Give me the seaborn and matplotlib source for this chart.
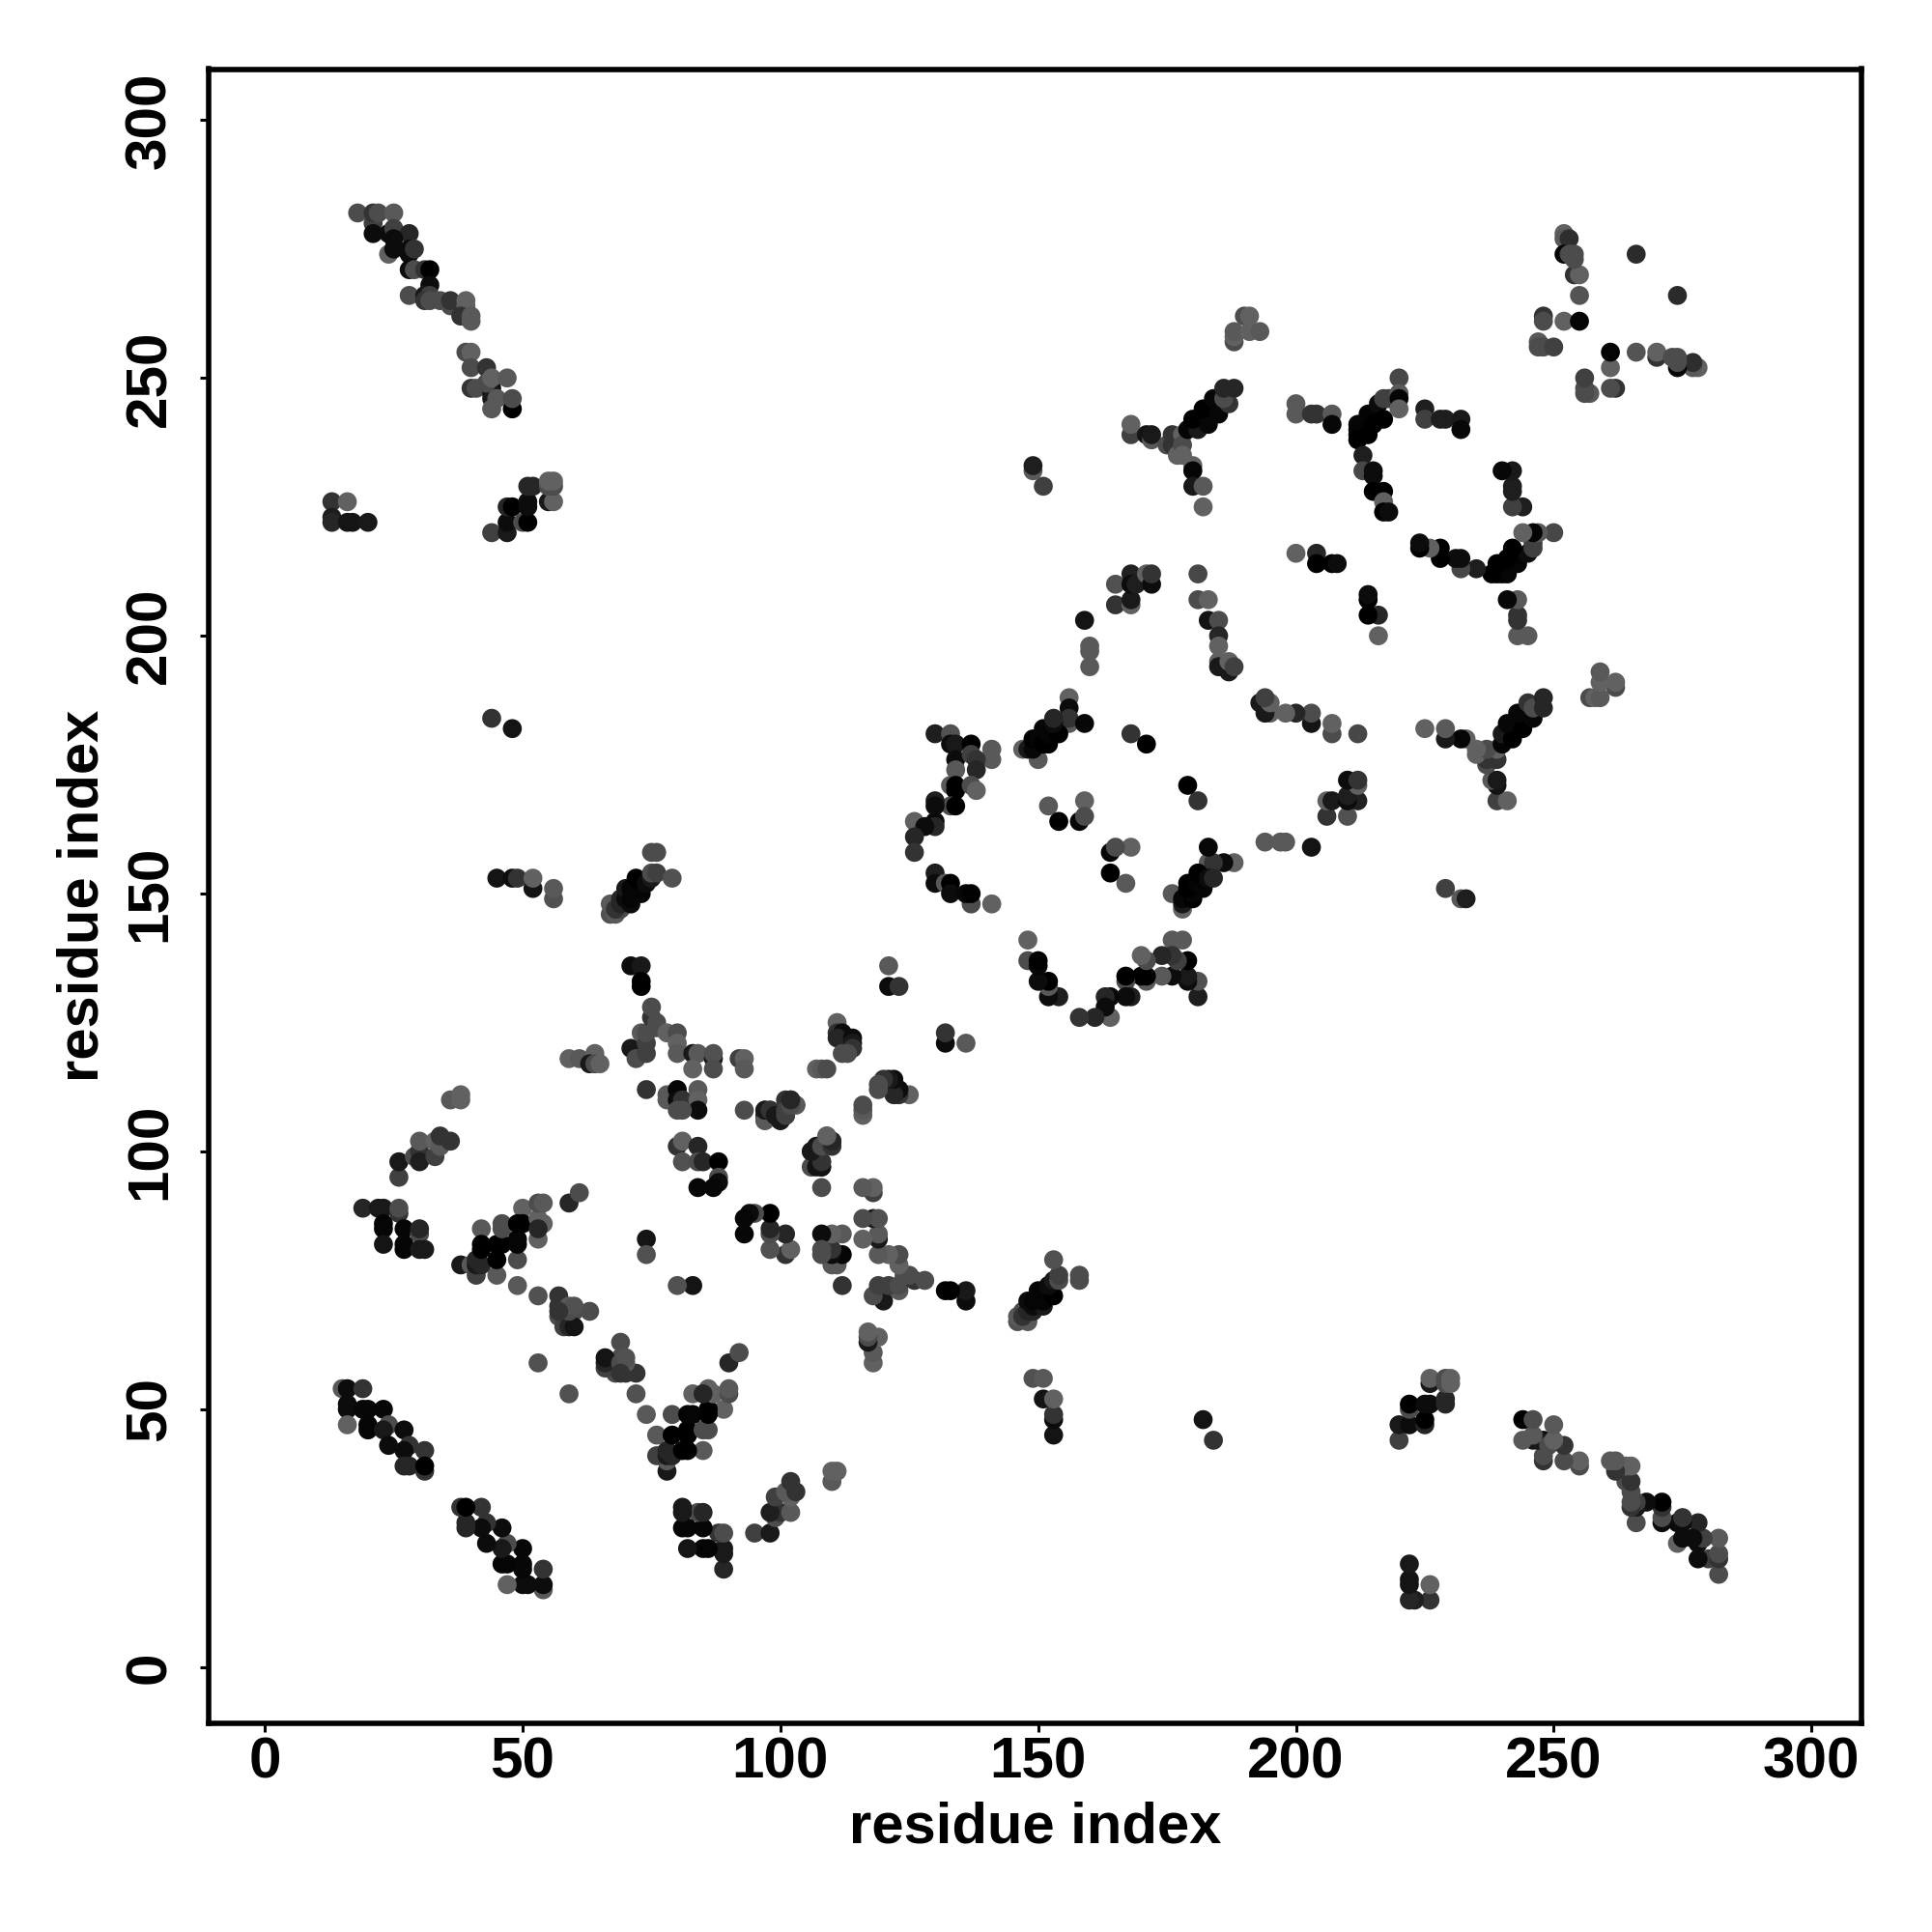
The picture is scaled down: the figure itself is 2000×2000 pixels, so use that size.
import pandas as pd
import matplotlib
matplotlib.use('Agg')
import matplotlib.pyplot as plt
import seaborn as sns

# contacts as (residue, residue, grey level), one side of the diagonal only
hairpin_top = [
    (18, 282, .30), (21, 280, .25), (21, 282, .20), (22, 282, .30), (25, 282, .35), (21, 278, .05),
    (24, 278, .05), (25, 279, .25), (28, 278, .15), (24, 274, .38), (25, 277, .05), (25, 275, .05),
    (28, 275, .05), (28, 274, .05), (29, 275, .20), (28, 271, .05), (29, 271, .30), (31, 271, .20),
    (32, 271, .00), (32, 268, .05), (28, 266, .30), (31, 266, .10), (32, 266, .25), (31, 265, .20),
    (32, 265, .30), (34, 265, .30), (36, 264, .30), (36, 265, .20), (39, 265, .38), (39, 264, .38),
    (38, 262, .20), (40, 262, .35), (40, 261, .35), (39, 255, .30), (40, 255, .38), (40, 252, .30),
    (43, 252, .20), (40, 248, .20), (41, 248, .30), (44, 248, .05), (44, 247, .10), (44, 246, .10),
    (43, 249, .30), (44, 250, .38), (47, 250, .35), (45, 246, .35), (48, 244, .00), (48, 246, .30),
    (44, 244, .35),
]
pocket_left = [
    (13, 226, .20), (16, 226, .38), (13, 223, .12), (13, 222, .15), (16, 222, .08), (17, 222, .08),
    (20, 222, .10), (44, 220, .25), (47, 220, .10), (47, 222, .05), (47, 225, .15), (48, 225, .00),
    (50, 222, .30), (51, 222, .00), (51, 225, .05), (51, 226, .05), (51, 229, .15), (52, 229, .15),
    (55, 226, .10), (56, 226, .38), (55, 229, .30), (56, 229, .30), (55, 230, .38), (56, 230, .38),
]
far_points = [
    (44, 184, .20), (48, 182, .08), (45, 153, .08), (48, 153, .05), (49, 153, .20), (52, 151, .08),
    (52, 153, .38), (56, 149, .32), (56, 151, .35),
]
helix_a = [
    (67, 146, .32), (68, 146, .35), (67, 148, .35), (69, 147, .30), (68, 147, .20), (69, 148, .15),
    (69, 149, .15), (70, 149, .05), (70, 151, .10), (71, 148, .05), (71, 149, .02), (71, 151, .02),
    (73, 150, .02), (72, 152, .02), (72, 153, .00), (74, 152, .05), (75, 153, .10), (75, 154, .30),
    (76, 154, .25), (79, 153, .32), (75, 158, .30), (76, 158, .30),
]
strand_low = [
    (15, 54, .35), (16, 54, .05), (19, 54, .20), (16, 51, .05), (16, 50, .05), (16, 47, .38),
    (19, 50, .03), (20, 50, .03), (23, 50, .03), (20, 47, .02), (20, 46, .02), (24, 47, .30),
    (23, 46, .10), (27, 46, .05), (24, 43, .05), (28, 43, .20), (27, 42, .05), (31, 42, .20),
    (27, 39, .15), (28, 39, .15), (31, 38, .20), (31, 39, .00),
]
sheet_b = [
    (19, 89, .15), (22, 89, .10), (23, 89, .10), (26, 88, .20), (26, 89, .30), (23, 86, .02),
    (23, 85, .02), (27, 85, .02), (30, 84, .30), (30, 85, .15), (23, 82, .08), (27, 82, .02),
    (27, 81, .02), (30, 81, .10), (31, 81, .10), (26, 95, .25), (26, 98, .10), (29, 99, .30),
    (30, 100, .20), (30, 98, .12), (33, 99, .25), (30, 102, .35), (33, 102, .38), (34, 101, .35),
    (34, 103, .20), (36, 102, .20), (36, 110, .35), (38, 111, .38), (38, 110, .38),
]
sheet_c = [
    (38, 78, .10), (40, 78, .35), (41, 76, .25), (45, 76, .35), (41, 78, .10), (41, 79, .15),
    (42, 78, .15), (42, 85, .35), (42, 82, .00), (42, 81, .00), (45, 82, .00), (46, 82, .00),
    (45, 79, .00), (46, 85, .30), (46, 86, .30), (49, 79, .30), (49, 82, .02), (49, 83, .02),
    (50, 89, .38), (49, 86, .00), (50, 86, .00), (53, 87, .38), (53, 90, .30), (54, 90, .35),
    (53, 83, .38), (54, 86, .38), (53, 85, .15), (59, 90, .15), (61, 92, .30),
]
turn_d = [
    (49, 74, .35), (53, 72, .32), (53, 59, .32), (57, 72, .20), (57, 70, .20), (57, 68, .30),
    (58, 67, .30), (59, 70, .35), (60, 69, .30), (63, 69, .30), (58, 66, .25), (59, 66, .15),
    (60, 66, .08), (59, 69, .30), (60, 70, .32), (57, 69, .20), (74, 83, .08), (74, 80, .32),
]
middle_e = [
    (59, 118, .38), (61, 118, .35), (64, 119, .38), (63, 117, .10), (64, 117, .30), (65, 117, .38),
    (71, 120, .10), (72, 118, .30), (73, 123, .35), (74, 119, .25), (74, 121, .25), (74, 123, .30),
    (75, 126, .20), (75, 128, .30), (76, 124, .30), (76, 125, .30), (78, 123, .38), (80, 123, .30),
    (80, 121, .38), (80, 119, .35), (83, 119, .10), (84, 119, .35), (87, 118, .10), (87, 119, .32),
    (87, 116, .30), (83, 116, .38), (92, 118, .25), (93, 118, .38), (93, 116, .35), (71, 136, .05),
    (73, 136, .10), (73, 133, .00), (73, 132, .00), (74, 112, .20), (78, 110, .35), (78, 111, .35),
    (80, 112, .02), (80, 110, .05), (81, 110, .20), (84, 112, .35), (84, 110, .38), (84, 108, .05),
    (80, 108, .30), (81, 108, .30), (80, 101, .20), (81, 102, .38), (84, 101, .15), (81, 98, .32),
    (84, 98, .30), (85, 98, .15), (88, 98, .00), (88, 95, .30), (88, 94, .05), (84, 93, .03),
    (87, 93, .03),
]
middle_f = [
    (93, 108, .30), (97, 106, .30), (97, 108, .08), (97, 107, .08), (98, 108, .20), (100, 106, .10),
    (101, 107, .10), (101, 108, .30), (101, 110, .20), (102, 110, .15), (103, 109, .38),
    (106, 97, .35), (106, 100, .10), (108, 97, .10), (108, 98, .20), (107, 99, .10), (107, 101, .25),
    (108, 101, .25), (109, 103, .35), (109, 102, .30), (110, 102, .15), (107, 116, .38),
    (108, 116, .35), (109, 116, .30), (111, 125, .38), (111, 123, .20), (112, 123, .05),
    (111, 122, .15), (114, 122, .05), (114, 121, .10), (114, 120, .20), (112, 119, .30),
    (113, 119, .30), (121, 136, .35), (121, 132, .05), (123, 132, .20),
]
ring_g = [
    (130, 181, .12), (133, 181, .32), (133, 179, .05), (134, 179, .10), (137, 179, .00),
    (141, 178, .35), (141, 176, .35), (134, 176, .05), (137, 177, .25), (138, 176, .20),
    (138, 174, .15), (134, 174, .35), (133, 171, .35), (134, 171, .00), (134, 170, .00),
    (137, 171, .30), (138, 170, .38), (133, 167, .30), (134, 167, .00), (130, 168, .12),
    (130, 167, .05), (126, 164, .38), (130, 164, .03), (130, 163, .15), (128, 163, .05),
    (126, 161, .15), (126, 158, .20), (130, 154, .12), (130, 152, .05), (132, 152, .35),
    (133, 152, .00), (133, 150, .05), (137, 148, .30), (136, 150, .03), (137, 150, .01),
    (141, 148, .38),
]
helix_h = [
    (156, 188, .38), (156, 186, .05), (156, 183, .35), (156, 184, .20), (159, 183, .03),
    (147, 178, .38), (150, 176, .35), (148, 178, .10), (149, 178, .03), (149, 180, .00),
    (150, 180, .02), (151, 179, .00), (152, 179, .00), (151, 182, .02), (152, 181, .02),
    (154, 181, .00), (153, 183, .05), (153, 184, .15), (152, 167, .35), (159, 168, .38),
    (158, 164, .03), (159, 165, .30), (154, 164, .00), (168, 181, .20), (171, 179, .00),
]
arc_i = [
    (159, 203, .08), (160, 198, .35), (160, 197, .35), (160, 194, .35), (165, 210, .32),
    (165, 206, .20), (168, 206, .38), (168, 207, .10), (168, 212, .13), (168, 210, .05),
    (169, 210, .12), (171, 212, .38), (172, 210, .05), (172, 212, .20), (181, 212, .28),
    (181, 207, .30), (183, 207, .38), (183, 203, .08), (185, 203, .30), (185, 200, .15),
    (185, 198, .38), (185, 195, .38), (185, 194, .10), (187, 193, .10), (187, 195, .38),
    (188, 194, .25), (149, 232, .35), (149, 233, .12), (151, 229, .25),
]
helix_j = [
    (168, 239, .25), (168, 241, .38), (171, 239, .08), (172, 238, .35), (172, 239, .10),
    (175, 237, .30), (176, 237, .20), (176, 239, .20), (178, 239, .38), (177, 235, .38),
    (178, 237, .30), (178, 235, .38), (180, 233, .38), (180, 232, .02), (180, 229, .10),
    (182, 229, .35), (182, 225, .38), (179, 240, .02), (181, 240, .10), (180, 242, .00),
    (183, 241, .03), (182, 244, .00), (185, 243, .03), (184, 246, .03), (187, 245, .20),
    (186, 246, .30), (186, 248, .15), (188, 248, .15), (188, 257, .30), (188, 258, .38),
    (188, 259, .35), (190, 262, .30), (191, 262, .38), (191, 259, .38), (193, 259, .35),
]
ring_k = [
    (200, 245, .35), (200, 243, .35), (203, 243, .20), (204, 243, .20), (207, 243, .35),
    (207, 241, .03), (200, 216, .38), (204, 216, .15), (204, 214, .00), (207, 214, .00),
    (208, 214, .05), (212, 241, .02), (212, 240, .02), (212, 239, .02), (212, 238, .00),
    (214, 243, .02), (215, 241, .00), (214, 239, .00), (216, 245, .05), (217, 242, .00),
    (218, 246, .25), (217, 246, .25), (220, 250, .28), (220, 247, .35), (220, 246, .02),
    (220, 244, .38), (213, 235, .12), (213, 232, .28), (215, 232, .05), (215, 231, .05),
    (215, 228, .00), (217, 228, .00), (217, 226, .38), (217, 224, .00), (218, 224, .05),
    (225, 244, .12), (225, 242, .25), (228, 242, .12), (229, 242, .12), (232, 242, .10),
    (232, 240, .03),
]
corner_l = [
    (247, 257, .35), (247, 256, .30), (248, 256, .30), (250, 256, .25), (248, 262, .20),
    (248, 261, .30), (252, 261, .38), (255, 261, .02), (255, 266, .33), (254, 270, .20),
    (255, 270, .38), (252, 278, .38), (252, 277, .35), (253, 277, .18), (252, 274, .02),
    (253, 274, .30), (254, 274, .30), (254, 273, .30), (266, 274, .17),
]

clusters = [hairpin_top, pocket_left, far_points, helix_a, strand_low, sheet_b, sheet_c, turn_d,
            middle_e, middle_f, ring_g, helix_h, arc_i, helix_j, ring_k, corner_l]
tick_values = [0, 50, 100, 150, 200, 250, 300]

rows = [c for cluster in clusters for c in cluster]
df = pd.DataFrame(rows, columns=['i', 'j', 'grey'])
# the map is symmetric, every contact shows on both sides
both = pd.concat([df, df.rename(columns={'i': 'j', 'j': 'i'})], ignore_index=True)

sns.set_style('white')
plt.rcParams['font.family'] = ['Liberation Sans', 'DejaVu Sans']
plt.rcParams['font.weight'] = 'bold'

fig = plt.figure(figsize=(10, 10), dpi=200)
ax = fig.add_axes([216 / 2000, 1 - 1784 / 2000, (1927 - 216) / 2000, (1784 - 71.5) / 2000])

sns.scatterplot(data=both, x='i', y='j', hue='grey', palette='gray', hue_norm=(0, 1),
                s=50, linewidth=0, legend=False, ax=ax)

ax.set_xlim(-10.9, 309.7)
ax.set_ylim(-10.9, 309.9)
ax.set_xticks(tick_values)
ax.set_yticks(tick_values)
ax.tick_params(axis='both', length=3.2, width=1.1, color='black', labelcolor='black',
               labelsize=21.7, bottom=True, left=True)
ax.tick_params(axis='x', pad=1.5)
ax.tick_params(axis='y', pad=8.5)
plt.setp(ax.get_yticklabels(), rotation=90, va='center')
ax.set_xlabel('residue index', fontsize=21.5, fontweight='bold', color='black', labelpad=4.5)
ax.set_ylabel('residue index', fontsize=21.5, fontweight='bold', color='black', labelpad=5.5)
for spine in ax.spines.values():
    spine.set_visible(True)
    spine.set_color('black')
    spine.set_linewidth(2)

fig.savefig('out.png', dpi=200)
